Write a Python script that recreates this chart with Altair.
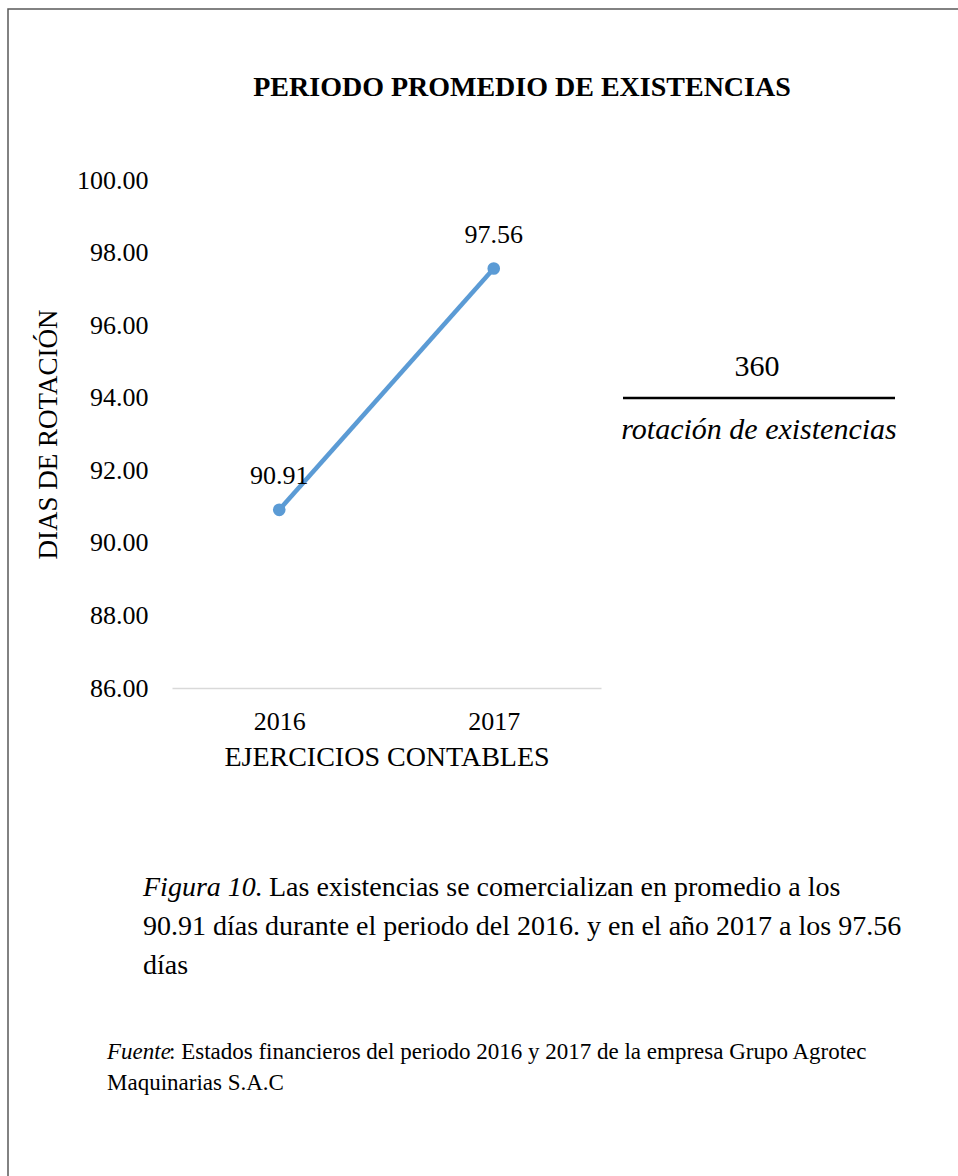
import altair as alt
import pandas as pd

# Chart data
years = ["2016", "2017"]
days = [90.91, 97.56]
y_ticks = [86, 88, 90, 92, 94, 96, 98, 100]

title_text = "PERIODO PROMEDIO DE EXISTENCIAS"
x_title = "EJERCICIOS CONTABLES"
y_title = "DIAS DE ROTACIÓN"
formula_num = "360"
formula_den = "rotación de existencias"
caption_lead = "Figura 10."
caption_lines = [
    "Las existencias se comercializan en promedio a los",
    "90.91 días durante el periodo del 2016. y en el año 2017 a los 97.56",
    "días",
]
source_lead = "Fuente"
source_lines = [
    ": Estados financieros del periodo 2016 y 2017 de la empresa Grupo Agrotec",
    "Maquinarias S.A.C",
]

SERIF = "Liberation Serif, Times New Roman, serif"
BLUE = "#5b9bd5"

df = pd.DataFrame({"year": years, "days": days})
one = alt.Data(values=[{}])

x_enc = alt.X(
    "year:N",
    sort=years,
    title=x_title,
    axis=alt.Axis(
        labelAngle=0,
        labelFont=SERIF,
        labelFontSize=26,
        labelColor="#000",
        labelPadding=20,
        ticks=False,
        domainColor="#d9d9d9",
        domainWidth=1.5,
        titleFont=SERIF,
        titleFontSize=28,
        titleFontWeight="normal",
        titleColor="#000",
        titlePadding=9,
    ),
)
y_enc = alt.Y(
    "days:Q",
    title=y_title,
    scale=alt.Scale(domain=[86, 100], nice=False, zero=False),
    axis=alt.Axis(
        values=y_ticks,
        format=".2f",
        labelFont=SERIF,
        labelFontSize=26,
        labelColor="#000",
        labelPadding=24,
        ticks=False,
        domain=False,
        grid=False,
        titleFont=SERIF,
        titleFontSize=27,
        titleFontWeight="normal",
        titleColor="#000",
        titlePadding=14,
    ),
)

base = alt.Chart(df).encode(x=x_enc, y=y_enc)
line = base.mark_line(color=BLUE, strokeWidth=4.5)
points = base.mark_point(filled=True, color=BLUE, size=160, opacity=1)
labels = base.mark_text(font=SERIF, fontSize=26, color="#000", dy=-34).encode(
    text=alt.Text("days:Q", format=".2f")
)


def note(text, x, y, size, align="left", style="normal", weight="normal"):
    return alt.Chart(one).mark_text(
        text=text, font=SERIF, fontSize=size, align=align, baseline="middle",
        fontStyle=style, fontWeight=weight, color="#000",
    ).encode(x=alt.value(x), y=alt.value(y))


# Page frame
frame = alt.Chart(one).mark_rect(
    fill="transparent", stroke="#595959", strokeWidth=1.5
).encode(x=alt.value(-164), x2=alt.value(800), y=alt.value(-171), y2=alt.value(1010))

heading = note(title_text, 350, -92, 28, align="center", weight="bold")

# Formula: 360 / rotación de existencias
num = note(formula_num, 585, 187, 30, align="center")
bar = alt.Chart(one).mark_rule(color="#000", strokeWidth=2.5).encode(
    x=alt.value(451), x2=alt.value(723), y=alt.value(218)
)
den = note(formula_den, 587, 250, 30, align="center", style="italic")

# Caption
cap = [
    note(caption_lead, -29, 708, 28, style="italic"),
    note(caption_lines[0], 97, 708, 28),
    note(caption_lines[1], -29, 747, 28),
    note(caption_lines[2], -29, 786, 28),
]
src = [
    note(source_lead, -65, 872, 23, style="italic"),
    note(source_lines[0], -3, 872, 23),
    note(source_lines[1], -65, 903, 23),
]

chart = alt.layer(
    frame, line, points, labels, heading, num, bar, den, *cap, *src
).properties(
    width=429,
    height=508,
    background="white",
    autosize=alt.AutoSizeParams(type="none"),
    padding={"left": 172, "top": 180, "right": 357, "bottom": 488},
).configure_view(strokeWidth=0, stroke="transparent")

chart.save("out.html", embed_options={"renderer": "svg", "actions": False})
